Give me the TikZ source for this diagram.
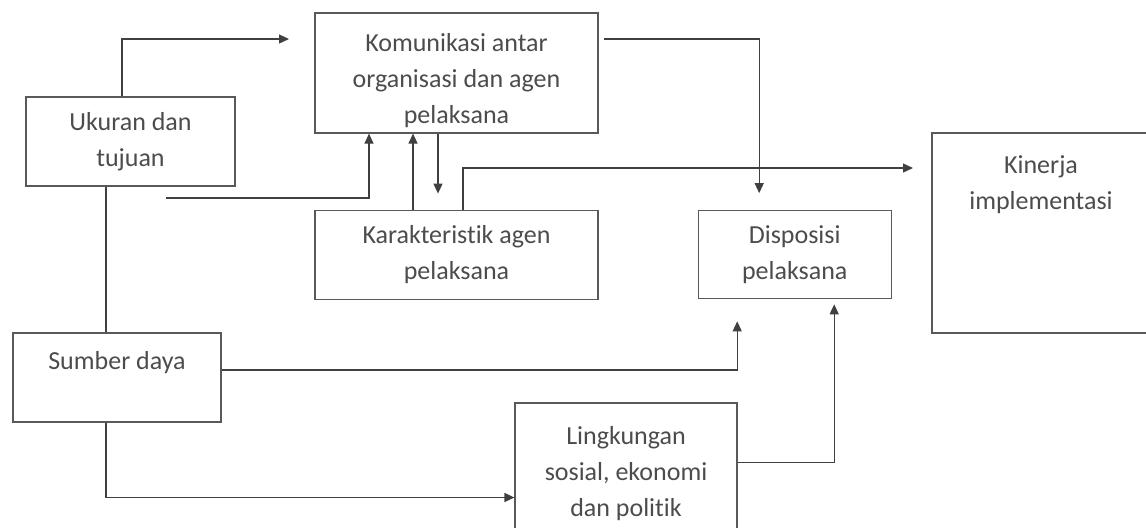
\documentclass[tikz,border=0pt]{standalone}
\usepackage{fontspec}
\setmainfont{Carlito}[Ligatures=NoCommon]
\usetikzlibrary{arrows.meta,positioning,calc}

\begin{document}
\begin{tikzpicture}[
    x=0.5pt, y=-0.5pt,
    txt/.style={align=center, font=\fontsize{13}{18}\selectfont, text=black!70},
    box/.style={rectangle, draw=black!65, line width=0.6pt, inner sep=0pt, txt},
    line/.style={-{Triangle[length=5pt,width=4.5pt]}, line width=0.6pt, draw=black!75},
    plain/.style={line width=0.6pt, draw=black!75}
]
    \useasboundingbox (0,0) rectangle (1146,527);

    \node[box, minimum width=141.5pt, minimum height=60pt, label={[txt, yshift=-4pt]center:Komunikasi antar\\organisasi dan agen\\pelaksana}] (kom) at (456.5,73) {};
    \node[box, below=38pt of kom, minimum width=141.5pt, minimum height=44.5pt] (karak) {Karakteristik agen\\pelaksana};
    \node[box, right=49.5pt of karak, minimum width=96.5pt, minimum height=44pt] (dispo) {Disposisi\\pelaksana};
    \node[box, minimum width=104.5pt, minimum height=44.5pt] (ukuran) at (130.5,141.5) {Ukuran dan\\tujuan};
    \node[box, minimum width=104pt, minimum height=44.5pt, label={[txt, yshift=7.5pt]center:Sumber daya}] (sumber) at (117,377.5) {};
    \node[box, minimum width=111pt, minimum height=71pt] (lingk) at (626,474) {Lingkungan\\sosial, ekonomi\\dan politik};
    \node[box, minimum width=109pt, minimum height=100pt, label={[txt, anchor=north, yshift=-8pt]north:Kinerja\\implementasi}] (kinerja) at (1041,233) {};

    % free ends
    \coordinate (toKom) at (289,39);
    \coordinate (fromUk) at (166,198);
    \coordinate (toKin) at (913,168);

    \draw[line] ($(ukuran.north)+(-8.5,0)$) |- (toKom);
    \draw[line] (fromUk) -| ($(kom.south)+(-87.5,0)$);
    \draw[line] ($(karak.north)+(-43.5,0)$) -- ($(kom.south)+(-43.5,0)$);
    \draw[line] ($(kom.south)+(-18.5,0)$) -- ($(karak.north)+(-18.5,-16)$);
    \draw[line] ($(karak.north)+(6.5,0)$) |- (toKin);
    \draw[line] ($(kom.east)+(5,-34)$) -| ($(dispo.north)+(-35.5,-17)$);
    \draw[plain] ($(ukuran.south)+(-24.5,0)$) -- ($(sumber.north)+(-11,0)$);
    \draw[line] ($(sumber.east)+(0,-7.5)$) -| ($(dispo.south)+(-57.5,22)$);
    \draw[line] ($(sumber.south)+(-11,0)$) |- ($(lingk.west)+(0,23.5)$);
    \draw[line] ($(lingk.east)+(0,-11.5)$) -| ($(dispo.south)+(39.5,5)$);
\end{tikzpicture}
\end{document}
